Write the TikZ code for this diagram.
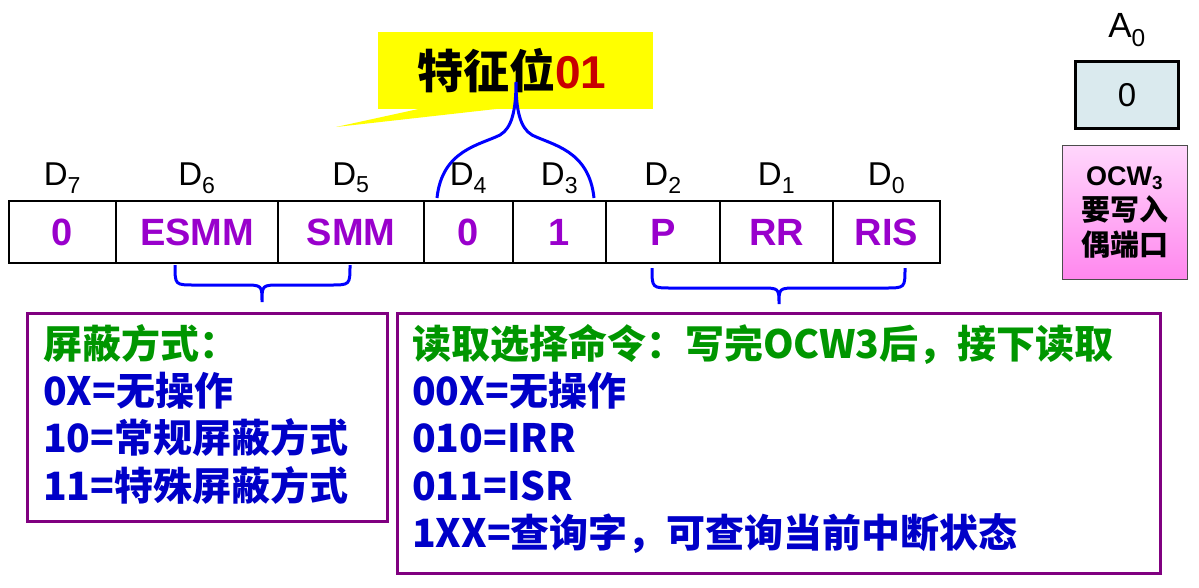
\documentclass[tikz,border=0pt]{standalone}
\usepackage{fontspec}
\setmainfont{Liberation Sans}
\newfontfamily\cjk{Noto Sans CJK SC}
\usetikzlibrary{calc}

\definecolor{cellpurple}{RGB}{153,0,204}
\definecolor{boxpurple}{RGB}{128,0,128}
\definecolor{txtgreen}{RGB}{0,150,0}
\definecolor{txtblue}{RGB}{0,0,200}
\definecolor{titlered}{RGB}{200,0,0}
\definecolor{bracecol}{RGB}{0,0,255}
\definecolor{calloutyellow}{RGB}{255,255,0}
\definecolor{a0fill}{RGB}{218,234,238}
\definecolor{pinktop}{RGB}{255,215,252}
\definecolor{pinkbot}{RGB}{255,135,238}

\tikzset{
  cell/.style={draw, line width=1.5pt, minimum height=62pt, inner sep=0pt,
    text=cellpurple, font=\fontsize{38}{38}\selectfont\bfseries},
  bitlbl/.style={font=\fontsize{33}{33}\selectfont, inner sep=0pt},
  brace/.style={draw=bracecol, line width=3pt},
  infobox/.style={draw=boxpurple, line width=3pt},
  infotext/.style={anchor=north west, align=left, inner sep=0pt,
    font=\cjk\bfseries\fontsize{39}{47.3}\selectfont}
}

\begin{document}
\begin{tikzpicture}[x=1pt, y=-1pt]
    \useasboundingbox (0,0) rectangle (1199,587);
    % callout
    \fill[calloutyellow] (378,32) rectangle (653,109);
    \fill[calloutyellow] (336,127) -- (423,108) -- (505,108) -- cycle;
    \node[inner sep=0pt, font=\cjk\bfseries\fontsize{46}{46}\selectfont] (title) at (512,71)
        {特征位{\normalfont\bfseries\color{titlered}01}};
    \draw[brace] (437,198) .. controls (442,150) and (480,145) .. (500,135)
        .. controls (512,128) and (516,110) .. (516,82)
        .. controls (516,110) and (520,128) .. (532,135)
        .. controls (552,145) and (589,150) .. (594,198);
    % register cells
    \foreach \l/\r/\t/\d in {9/116/0/7, 116/278/ESMM/6, 278/424/SMM/5, 424/513/0/4,
                             513/606/1/3, 606/720/P/2, 720/833/RR/1, 833/940/RIS/0} {
        \pgfmathsetmacro\w{\r-\l}
        \node[cell, minimum width=\w pt] (c\d) at ({(\l+\r)/2},232) {\t};
        \node[bitlbl] (d\d) at ({(\l+\r)/2},178) {D\textsubscript{\d}};
    }
    % braces below
    \draw[brace] (175,265) .. controls (175,285) .. (195,285) -- (243,285)
        .. controls (262,285) .. (262,302) .. controls (262,285) .. (281,285)
        -- (330,285) .. controls (350,285) .. (350,265);
    \draw[brace] (652,268) .. controls (652,288) .. (672,288) -- (760,288)
        .. controls (779,288) .. (779,304) .. controls (779,288) .. (798,288)
        -- (885,288) .. controls (905,288) .. (905,268);
    % A0
    \node[bitlbl, font=\fontsize{35}{35}\selectfont] (a0lbl) at (1127,30) {A\textsubscript{0}};
    \node[draw, line width=3pt, fill=a0fill, minimum width=103pt, minimum height=67pt,
        font=\fontsize{33}{33}\selectfont] (a0) at (1127,95) {0};
    \node[draw=black!70, line width=1pt, top color=pinktop, bottom color=pinkbot,
        minimum width=125pt, minimum height=134pt, align=center,
        font=\cjk\bfseries\fontsize{29}{35}\selectfont] (ocw) at (1124.5,212)
        {{\normalfont\bfseries\fontsize{27}{27}\selectfont OCW\textsubscript{3}}\\要写入\\偶端口};
    % description boxes
    \draw[infobox] (27,313) rectangle (387,521);
    \node[infotext] (mask) at (43,324)
        {\textcolor{txtgreen}{屏蔽方式：}\\
         \textcolor{txtblue}{0X=无操作}\\
         \textcolor{txtblue}{10=常规屏蔽方式}\\
         \textcolor{txtblue}{11=特殊屏蔽方式}};
    \draw[infobox] (397,313) rectangle (1160,573);
    \node[infotext] (read) at (412,324)
        {\textcolor{txtgreen}{读取选择命令：写完OCW3后，接下读取}\\
         \textcolor{txtblue}{00X=无操作}\\
         \textcolor{txtblue}{010=IRR}\\
         \textcolor{txtblue}{011=ISR}\\
         \textcolor{txtblue}{1XX=查询字，可查询当前中断状态}};
\end{tikzpicture}
\end{document}
